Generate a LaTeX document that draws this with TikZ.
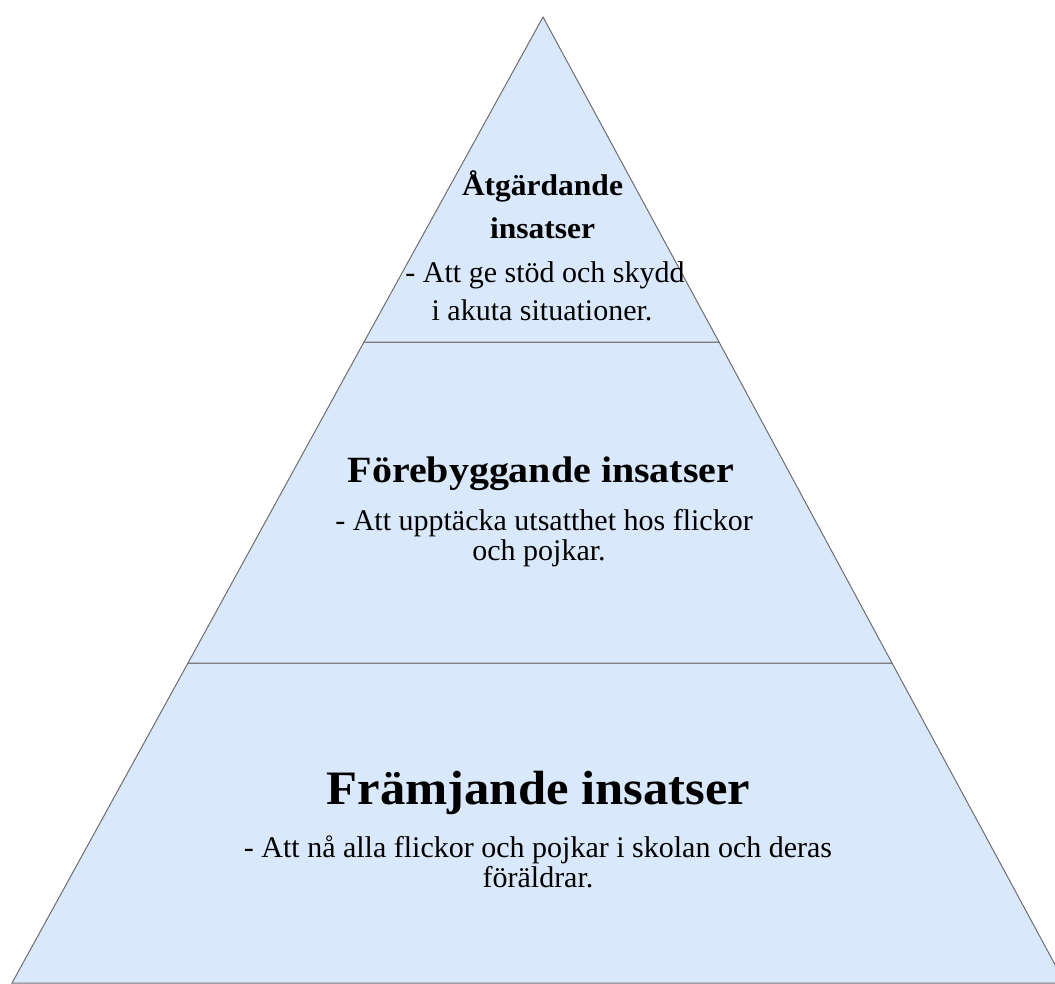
\documentclass[tikz,border=0pt]{standalone}
\usepackage{fontspec}
\setmainfont{Liberation Serif}
\definecolor{tierfill}{HTML}{DAE8FC}
\definecolor{tierline}{HTML}{6E6E6E}
\tikzset{
  tier/.style={fill=tierfill, draw=tierline, line width=1pt, line join=miter},
  ttl/.style={anchor=base, inner sep=0pt},
  body/.style={anchor=base, inner sep=0pt, font=\fontsize{30}{30}\selectfont},
}
\newcommand{\wide}[2]{\scalebox{#1}[1]{#2}}
\begin{document}
\begin{tikzpicture}[x=1pt,y=-1pt]
\useasboundingbox (0,0) rectangle (1055,983);
\begin{scope}
\clip (0,0) rectangle (1055,983);
\coordinate (apex) at (543,17);
\coordinate (l1) at (364,342);
\coordinate (r1) at (719,342);
\coordinate (l2) at (188,663);
\coordinate (r2) at (892,663);
\coordinate (l3) at (12,983);
\coordinate (r3) at (1065,983);
\path[tier] (l2) -- (r2) -- (r3) -- (l3) -- cycle;
\path[tier] (l1) -- (r1) -- (r2) -- (l2) -- cycle;
\path[tier] (apex) -- (r1) -- (l1) -- cycle;
\end{scope}
% top tier
\node[ttl, font=\bfseries\fontsize{30}{30}\selectfont] (t1a) at (542.5,195) {\wide{1.05}{Åtgärdande}};
\node[ttl, font=\bfseries\fontsize{30}{30}\selectfont] (t1b) at (542.5,238) {\wide{1.05}{insatser}};
\node[body] (b1a) at (545,282) {- Att ge stöd och skydd};
\node[body] (b1b) at (542,320) {i akuta situationer.};
% middle tier
\node[ttl, font=\bfseries\fontsize{37}{37}\selectfont] (t2) at (541,482) {\wide{1.08}{Förebyggande insatser}};
\node[body] (b2a) at (544,530) {- Att upptäcka utsatthet hos flickor};
\node[body] (b2b) at (539,560) {och pojkar.};
% bottom tier
\node[ttl, font=\bfseries\fontsize{48}{48}\selectfont] (t3) at (538.5,804) {\wide{1.055}{Främjande insatser}};
\node[body] (b3a) at (538,857) {- Att nå alla flickor och pojkar i skolan och deras};
\node[body] (b3b) at (538,887) {föräldrar.};
\end{tikzpicture}
\end{document}
